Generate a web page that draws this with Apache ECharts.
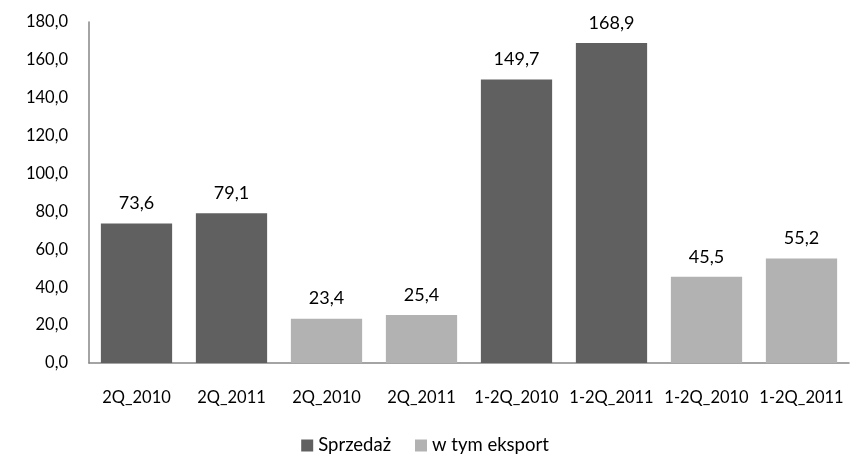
<!DOCTYPE html>
<html><head><meta charset="utf-8">
<script src="https://cdn.jsdelivr.net/npm/echarts@6/dist/echarts.min.js"></script>
<style>html,body{margin:0;padding:0;background:#fff}#c{width:850px;height:455px}</style>
</head><body><div id="c"></div>
<script>
const categories = ['2Q_2010','2Q_2011','2Q_2010','2Q_2011','1-2Q_2010','1-2Q_2011','1-2Q_2010','1-2Q_2011'];
const sprzedaz = [73.6, 79.1, null, null, 149.7, 168.9, null, null];
const eksport = [null, null, 23.4, 25.4, null, null, 45.5, 55.2];
const fmt = v => v.toFixed(1).replace('.', ',');
const FONT = 'Lato, "Open Sans", sans-serif';
const chart = echarts.init(document.getElementById('c'));
chart.setOption({
  animation: false,
  textStyle: {fontFamily: FONT},
  grid: {left: 89, right: 1, top: 22, bottom: 92},
  legend: {
    bottom: 0, left: 'center', itemWidth: 12, itemHeight: 12, itemGap: 24,
    icon: 'rect', padding: [0, 5, 0, 5],
    textStyle: {fontSize: 18.5, color: '#000', fontFamily: FONT},
    data: ['Sprzedaż', 'w tym eksport']
  },
  xAxis: {
    type: 'category', data: categories,
    axisLine: {lineStyle: {color: '#868686', width: 1.5}},
    axisTick: {show: false},
    axisLabel: {color: '#000', fontSize: 16.5, margin: 26, fontFamily: FONT, interval: 0}
  },
  yAxis: {
    type: 'value', min: 0, max: 180, interval: 20,
    axisLine: {show: true, lineStyle: {color: '#868686', width: 1.5}},
    axisTick: {show: false},
    splitLine: {show: false},
    axisLabel: {color: '#000', fontSize: 16.5, margin: 21, fontFamily: FONT, formatter: v => fmt(v)}
  },
  series: [
    {name: 'Sprzedaż', type: 'bar', stack: 's', data: sprzedaz, barWidth: '75%',
     itemStyle: {color: '#606060'},
     label: {show: true, position: 'top', distance: 11, color: '#000', fontSize: 18, fontFamily: FONT, formatter: p => fmt(p.value)}},
    {name: 'w tym eksport', type: 'bar', stack: 's', data: eksport, barWidth: '75%',
     itemStyle: {color: '#b2b2b2'},
     label: {show: true, position: 'top', distance: 11, color: '#000', fontSize: 18, fontFamily: FONT, formatter: p => fmt(p.value)}}
  ]
});
</script></body></html>
